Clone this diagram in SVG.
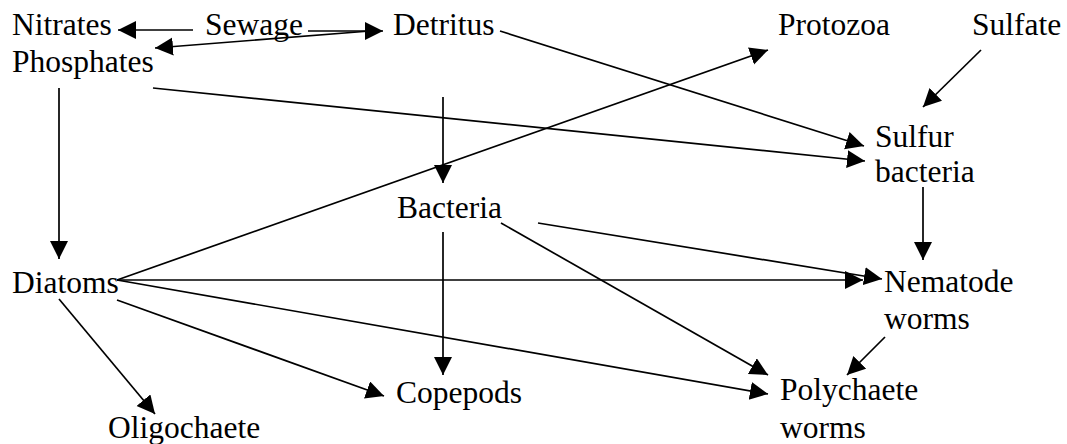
<svg xmlns="http://www.w3.org/2000/svg" width="1067" height="444" viewBox="0 0 1067 444">
  <style>
    .lbl { font-family: "Liberation Serif", "Times New Roman", serif; font-size: 31.5px; fill: #000; }
    .edge { stroke: #000; stroke-width: 1.7; fill: none; marker-end: url(#head); }
  </style>
  <defs>
    <marker id="head" markerUnits="userSpaceOnUse" markerWidth="20" markerHeight="20" refX="18" refY="9" orient="auto">
      <path d="M0,0 L18,9 L0,18 Z" fill="#000"/>
    </marker>
  </defs>
  <rect width="1067" height="444" fill="#fff"/>

  <g id="connectors">
    <line class="edge" x1="193" y1="30" x2="118" y2="30"/>
    <line class="edge" x1="308" y1="31" x2="383" y2="31"/>
    <line class="edge" x1="370" y1="31" x2="155" y2="48"/>
    <line class="edge" x1="500" y1="31" x2="864" y2="146"/>
    <line class="edge" x1="153" y1="88" x2="865" y2="161"/>
    <line class="edge" x1="59" y1="88" x2="59" y2="259"/>
    <line class="edge" x1="443" y1="97" x2="443" y2="183"/>
    <line class="edge" x1="981" y1="50" x2="923" y2="107"/>
    <line class="edge" x1="923" y1="187" x2="923" y2="260"/>
    <line class="edge" x1="117" y1="280" x2="768" y2="50"/>
    <line class="edge" x1="117" y1="280" x2="863" y2="280"/>
    <line class="edge" x1="538" y1="223" x2="882" y2="279"/>
    <line class="edge" x1="501" y1="223" x2="768" y2="375"/>
    <line class="edge" x1="443" y1="232" x2="443" y2="375"/>
    <line class="edge" x1="117" y1="280" x2="768" y2="394"/>
    <line class="edge" x1="117" y1="300" x2="384" y2="396"/>
    <line class="edge" x1="59" y1="299" x2="155" y2="414"/>
    <line class="edge" x1="885" y1="337" x2="847" y2="375"/>
  </g>

  <g id="nitrates"><text class="lbl" x="12" y="35">Nitrates</text></g>
  <g id="phosphates"><text class="lbl" x="12" y="72">Phosphates</text></g>
  <g id="sewage"><text class="lbl" x="205" y="35">Sewage</text></g>
  <g id="detritus"><text class="lbl" x="393" y="35">Detritus</text></g>
  <g id="protozoa"><text class="lbl" x="778" y="35">Protozoa</text></g>
  <g id="sulfate"><text class="lbl" x="972" y="35">Sulfate</text></g>
  <g id="sulfur-bacteria">
    <text class="lbl" x="875" y="147">Sulfur</text>
    <text class="lbl" x="875" y="182">bacteria</text>
  </g>
  <g id="bacteria"><text class="lbl" x="397" y="218">Bacteria</text></g>
  <g id="diatoms"><text class="lbl" x="12" y="293">Diatoms</text></g>
  <g id="nematode-worms">
    <text class="lbl" x="884" y="292">Nematode</text>
    <text class="lbl" x="884" y="329">worms</text>
  </g>
  <g id="copepods"><text class="lbl" x="396" y="403">Copepods</text></g>
  <g id="polychaete-worms">
    <text class="lbl" x="780" y="400">Polychaete</text>
    <text class="lbl" x="780" y="438">worms</text>
  </g>
  <g id="oligochaete"><text class="lbl" x="108" y="438">Oligochaete</text></g>
</svg>
